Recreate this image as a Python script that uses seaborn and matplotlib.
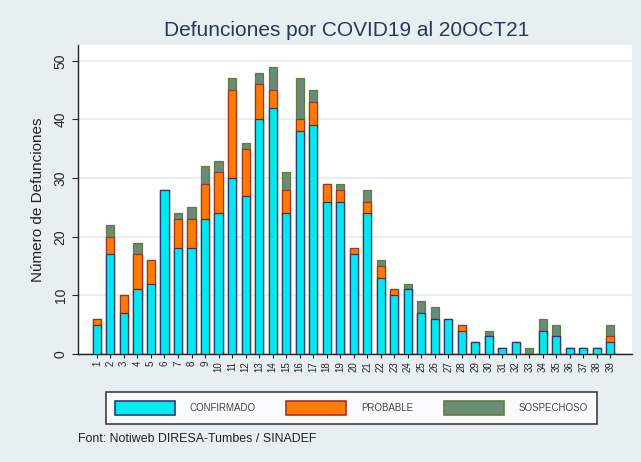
import numpy as np
import pandas as pd
import matplotlib
matplotlib.use("Agg")
import matplotlib.pyplot as plt
import seaborn as sns
from matplotlib.patches import Patch

semanas = list(range(1, 40))
confirmado = [5, 17, 7, 11, 12, 28, 18, 18, 23, 24, 30, 27, 40, 42, 24, 38, 39, 26, 26, 17,
              24, 13, 10, 11, 7, 6, 6, 4, 2, 3, 1, 2, 0, 4, 3, 1, 1, 1, 2]
probable = [1, 3, 3, 6, 4, 0, 5, 5, 6, 7, 15, 8, 6, 3, 4, 2, 4, 3, 2, 1,
            2, 2, 1, 0, 0, 0, 0, 1, 0, 0, 0, 0, 0, 0, 0, 0, 0, 0, 1]
sospechoso = [0, 2, 0, 2, 0, 0, 1, 2, 3, 2, 2, 1, 2, 4, 3, 7, 2, 0, 1, 0,
              2, 1, 0, 1, 2, 2, 0, 0, 0, 1, 0, 0, 1, 2, 2, 0, 0, 0, 2]

df = pd.DataFrame({"semana": [str(s) for s in semanas],
                   "conf": confirmado, "prob": probable, "sos": sospechoso})
df["conf_prob"] = df["conf"] + df["prob"]
df["total"] = df["conf_prob"] + df["sos"]

C_CONF, E_CONF = "#00E8F0", "#1B3F7A"
C_PROB, E_PROB = "#FF7A00", "#A8321E"
C_SOS, E_SOS = "#6B8A78", "#5E7F3A"
BG = "#E8EFF2"

sns.set_style("white")
plt.rcParams["font.family"] = ["Liberation Sans", "DejaVu Sans"]

fig = plt.figure(figsize=(6.41, 4.62), dpi=100, facecolor=BG)
ax = fig.add_axes([0.1217, 0.2338, 0.8643, 0.6688])
ax.set_facecolor("white")

# stacked by overlaying cumulative totals
sns.barplot(data=df, x="semana", y="total", color=C_SOS, edgecolor=E_SOS,
            linewidth=0.9, width=0.6, saturation=1, ax=ax, zorder=3)
sns.barplot(data=df, x="semana", y="conf_prob", color=C_PROB, edgecolor=E_PROB,
            linewidth=0.9, width=0.6, saturation=1, ax=ax, zorder=3)
sns.barplot(data=df, x="semana", y="conf", color=C_CONF, edgecolor=E_CONF,
            linewidth=0.9, width=0.6, saturation=1, ax=ax, zorder=3)

ax.set_xlim(-1.4, 39.6)
ax.set_ylim(0, 52.7)
ax.set_yticks([0, 10, 20, 30, 40, 50])
ax.yaxis.grid(True, color="#E3ECEF", linewidth=1.2, zorder=0)
ax.set_axisbelow(True)

for s in ["top", "right"]:
    ax.spines[s].set_visible(False)
ax.spines["left"].set_color("#222222")
ax.spines["bottom"].set_color("#222222")
ax.spines["left"].set_linewidth(1)
ax.spines["bottom"].set_linewidth(1)

ax.tick_params(axis="x", labelsize=7, rotation=90, length=3, direction="out",
               bottom=True, color="#222222", pad=2)
ax.tick_params(axis="y", labelsize=10, length=4, direction="out", left=True,
               color="#222222")
for lbl in ax.get_yticklabels():
    lbl.set_rotation(90)
    lbl.set_va("center")

ax.set_xlabel("")
ax.set_ylabel("Número de Defunciones", fontsize=11, color="#222222", labelpad=6)

fig.text(0.54, 0.935, "Defunciones por COVID19 al 20OCT21", ha="center", va="center",
         fontsize=15, color="#2A3756")

handles = [Patch(facecolor=C_CONF, edgecolor=E_CONF, linewidth=1.2),
           Patch(facecolor=C_PROB, edgecolor=E_PROB, linewidth=1.2),
           Patch(facecolor=C_SOS, edgecolor=E_SOS, linewidth=1.2)]
leg = fig.legend(handles, ["CONFIRMADO", "PROBABLE", "SOSPECHOSO"], ncol=3,
                 loc="center", bbox_to_anchor=(0.165, 0.076, 0.766, 0.082),
                 mode="expand", fontsize=7, handlelength=6.2, handleheight=1.8,
                 handletextpad=1.5, columnspacing=2.8, frameon=True, fancybox=False,
                 borderpad=0.9, borderaxespad=0)
leg.get_frame().set_edgecolor("#111111")
leg.get_frame().set_linewidth(1.2)
leg.get_frame().set_facecolor("white")
for t in leg.get_texts():
    t.set_color("#444444")

fig.text(0.122, 0.05, "Font: Notiweb DIRESA-Tumbes / SINADEF", fontsize=8.9,
         color="#222222", va="center")

fig.savefig("out.png", dpi=100, facecolor=BG)
